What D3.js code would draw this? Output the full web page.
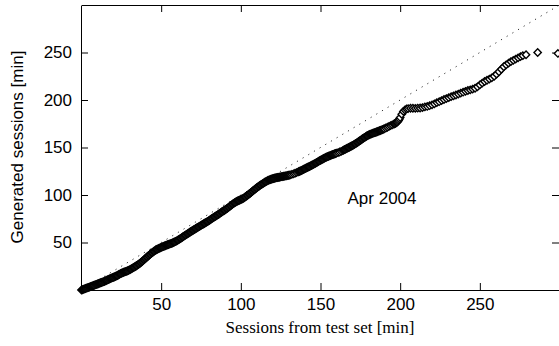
<!DOCTYPE html>
<html>
<head>
<meta charset="utf-8">
<script src="https://cdn.jsdelivr.net/npm/d3@7"></script>
<style>
  html, body { margin: 0; padding: 0; background: #fff; }
  svg { display: block; }
</style>
</head>
<body>
<div id="chart"></div>
<script>
// Quantiles: test set (x) vs generated sessions (y), in minutes
const testSet = [
  0, 0.5, 1, 1.5, 2, 2.5, 3, 3.5, 4, 4.5, 5, 5.5, 6, 6.5, 7, 7.5, 8, 8.5, 9, 9.5,
  10, 10.5, 11, 11.5, 12, 12.5, 13, 13.5, 14, 14.5, 15, 15.5, 16, 16.5, 17, 17.5, 18, 18.5, 19, 19.5,
  20, 20.5, 21, 21.5, 22, 22.5, 23, 23.5, 24, 24.5, 25, 25.5, 26, 26.5, 27, 27.5, 28, 28.5, 29, 29.5,
  30, 30.5, 31, 31.5, 32, 32.5, 33, 33.5, 34, 34.5, 35, 35.5, 36, 36.5, 37, 37.5, 38, 38.5, 39, 39.5,
  40, 40.5, 41, 41.5, 42, 42.5, 43, 43.5, 44, 44.5, 45, 45.5, 46, 46.5, 47, 47.5, 48, 48.5, 49, 49.5,
  50, 50.5, 51, 51.5, 52, 52.5, 53, 53.5, 54, 54.5, 55, 55.5, 56, 56.5, 57, 57.5, 58, 58.5, 59, 59.5,
  60, 60.5, 61, 61.5, 62, 62.5, 63, 63.5, 64, 64.5, 65, 65.5, 66, 66.5, 67, 67.5, 68, 68.5, 69, 69.5,
  70, 70.5, 71, 71.5, 72, 72.5, 73, 73.5, 74, 74.5, 75, 75.5, 76, 76.5, 77, 77.5, 78, 78.5, 79, 79.5,
  80, 80.5, 81, 81.5, 82, 82.5, 83, 83.5, 84, 84.5, 85, 85.5, 86, 86.5, 87, 87.5, 88, 88.5, 89, 89.5,
  90, 90.5, 91, 91.5, 92, 92.5, 93, 93.5, 94, 94.5, 95, 95.5, 96, 96.5, 97, 97.5, 98, 98.5, 99, 99.5,
  100, 100.5, 101, 101.5, 102, 102.5, 103, 103.5, 104, 104.5, 105, 105.5, 106, 106.5, 107, 107.5, 108, 108.5, 109, 109.5,
  110, 110.5, 111, 111.5, 112, 112.5, 113, 113.5, 114, 114.5, 115, 115.5, 116, 116.5, 117, 117.5, 118, 118.5, 119, 119.5,
  120, 120.5, 121, 121.5, 122, 122.5, 123, 123.5, 124, 124.5, 125, 125.5, 126, 126.5, 127, 127.5, 128, 128.5, 129, 129.5,
  130, 130.5, 131, 132, 133, 134, 135, 136, 136.5, 137, 137.5, 138, 138.5, 139, 139.5,
  140, 140.5, 141, 141.5, 142, 142.5, 143, 143.5, 144, 144.5, 145, 145.5, 146, 146.5, 147, 147.5, 148, 148.5, 149, 149.5,
  150, 150.5, 151, 151.5, 152, 152.5, 153, 153.5, 154, 154.5, 155, 155.5, 156, 156.5, 157, 157.5, 158, 158.5, 159, 159.5,
  160, 161, 162, 163, 164, 164.5, 165, 165.5, 166, 166.5, 167, 167.5, 168, 168.5, 169, 169.5,
  170, 170.5, 171, 171.5, 172, 172.5, 173, 173.5, 174, 174.5, 175, 175.5, 176, 176.5, 177, 177.5, 178, 178.5, 179, 179.5,
  180, 180.5, 181, 181.5, 182, 182.5, 183, 183.5, 184, 184.5, 185, 185.5, 186, 186.5, 187, 187.5, 188, 188.5, 189, 189.5,
  190, 191, 192, 193, 194, 195, 196, 196.5, 197, 197.5, 198, 198.5, 199, 199.5,
  200, 201, 202, 203, 204, 205, 206.5, 208, 209.5, 211, 212.5, 214, 215.5, 217, 218.5, 220, 221.5, 223,
  224.5, 226, 227.5, 229, 230.5, 232, 233.5, 235, 236.5, 238, 239.5, 241, 242.5, 244, 245.5, 247, 248.5, 250,
  251.5, 253, 254.5, 256, 257.5, 259, 260.5, 262, 263.5, 265, 266.5, 268, 269.5, 271, 272.5, 274, 275.5, 277,
  279, 286.3, 299
];
const generated = [
  0, 0.3, 0.6, 0.9, 1.2, 1.6, 1.9, 2.2, 2.5, 2.8, 3.1, 3.5, 3.8, 4.1, 4.4, 4.7, 5.0, 5.4, 5.7, 6.0,
  6.3, 6.6, 6.9, 7.3, 7.6, 7.9, 8.2, 8.5, 8.9, 9.2, 9.6, 10.0, 10.4, 10.8, 11.2, 11.6, 12.0, 12.3, 12.7, 13.0,
  13.4, 13.7, 14.1, 14.5, 14.9, 15.3, 15.8, 16.3, 16.8, 17.2, 17.6, 18.0, 18.3, 18.7, 19.0, 19.3, 19.6, 19.9, 20.3, 20.7,
  21.1, 21.5, 22.0, 22.5, 23.0, 23.5, 24.0, 24.5, 25.0, 25.5, 26.1, 26.7, 27.3, 27.9, 28.6, 29.3, 30.0, 30.7, 31.5, 32.2,
  33.0, 33.8, 34.6, 35.3, 36.1, 36.8, 37.5, 38.2, 38.9, 39.5, 40.2, 40.8, 41.4, 41.9, 42.4, 42.9, 43.3, 43.7, 44.1, 44.5,
  44.9, 45.2, 45.6, 45.9, 46.3, 46.6, 47.0, 47.3, 47.6, 47.9, 48.2, 48.5, 48.8, 49.1, 49.5, 49.9, 50.3, 50.7, 51.1, 51.5,
  52.0, 52.5, 53.0, 53.5, 54.1, 54.6, 55.2, 55.8, 56.4, 56.9, 57.5, 58.0, 58.6, 59.1, 59.7, 60.2, 60.8, 61.3, 61.9, 62.4,
  62.9, 63.4, 63.9, 64.5, 65.0, 65.5, 66.0, 66.5, 67.0, 67.5, 68.0, 68.5, 69.0, 69.5, 70.0, 70.5, 71.0, 71.5, 72.0, 72.5,
  73.0, 73.6, 74.2, 74.8, 75.4, 75.9, 76.5, 77.0, 77.6, 78.1, 78.6, 79.1, 79.7, 80.3, 80.9, 81.5, 82.1, 82.6, 83.2, 83.7,
  84.2, 84.8, 85.4, 86.0, 86.7, 87.3, 88.0, 88.6, 89.3, 89.9, 90.6, 91.2, 91.8, 92.3, 92.8, 93.2, 93.7, 94.1, 94.5, 94.9,
  95.2, 95.6, 96.0, 96.5, 97.0, 97.6, 98.2, 98.8, 99.5, 100.1, 100.8, 101.4, 102.1, 102.8, 103.5, 104.2, 104.9, 105.6, 106.3, 106.9,
  107.6, 108.2, 108.9, 109.5, 110.1, 110.6, 111.2, 111.7, 112.3, 112.8, 113.4, 113.9, 114.4, 114.8, 115.3, 115.7, 116.0, 116.3, 116.6, 116.9,
  117.1, 117.4, 117.6, 117.9, 118.1, 118.3, 118.4, 118.6, 118.7, 118.9, 119.1, 119.3, 119.4, 119.6, 119.7, 119.9, 120.1, 120.2, 120.4, 120.6,
  120.8, 121.0, 121.2, 121.7, 122.3, 122.9, 123.6, 124.3, 124.7, 125.0, 125.4, 125.8, 126.2, 126.7, 127.1,
  127.5, 128.0, 128.4, 128.8, 129.2, 129.6, 130.0, 130.4, 130.9, 131.3, 131.8, 132.2, 132.7, 133.1, 133.6, 134.1, 134.6, 135.1, 135.6, 136.1,
  136.6, 137.0, 137.5, 137.9, 138.4, 138.8, 139.3, 139.7, 140.1, 140.4, 140.8, 141.1, 141.5, 141.8, 142.2, 142.5, 142.8, 143.1, 143.4, 143.7,
  144.0, 144.6, 145.3, 146.0, 146.8, 147.2, 147.7, 148.1, 148.6, 149.0, 149.4, 149.8, 150.3, 150.7, 151.2, 151.6,
  152.0, 152.5, 153.0, 153.5, 154.0, 154.6, 155.2, 155.7, 156.3, 156.9, 157.5, 158.1, 158.7, 159.3, 159.9, 160.4, 161.0, 161.5, 162.1, 162.5,
  163.0, 163.4, 163.8, 164.1, 164.4, 164.8, 165.1, 165.4, 165.7, 166.0, 166.3, 166.6, 166.9, 167.2, 167.6, 167.9, 168.2, 168.5, 168.9, 169.3,
  169.7, 170.5, 171.3, 172.2, 173.0, 173.8, 174.6, 175.0, 175.5, 176.0, 176.5, 177.4, 178.5, 180.0,
  181.5, 185, 188, 189.5, 190.5, 191, 191.35, 191.3, 191.25, 191.5, 191.55, 192.0, 192.7, 193.2, 194.0, 194.9, 196.0, 197.2,
  198.2, 199.4, 200.5, 201.5, 202.5, 203.5, 204.4, 205.3, 206.2, 207.3, 208.2, 209.1, 210.0, 210.7, 211.5, 212.4, 213.9, 215.9,
  217.8, 219.5, 220.8, 222.0, 223.3, 225, 227.2, 229.7, 232.4, 235, 237.0, 238.8, 240.4, 241.8, 243.1, 244.4, 245.6, 246.7,
  247.6, 250, 249
];
const xTicks = [50, 100, 150, 200, 250];
const yTicks = [50, 100, 150, 200, 250];
const xLabel = "Sessions from test set [min]";
const yLabel = "Generated sessions [min]";
const note = "Apr 2004";

const width = 559, height = 346;
const plotLeft = 81, plotRight = 559, plotTop = 5, plotBottom = 290;
const sans = "'Liberation Sans', Arial, Helvetica, sans-serif";
const serif = "'Liberation Serif', 'Times New Roman', serif";

const svg = d3.select("#chart").append("svg")
    .attr("width", width)
    .attr("height", height)
    .style("background", "#fff");

const x = d3.scaleLinear().domain([0, 300]).range([plotLeft + 0.5, plotRight + 0.5]);
const y = d3.scaleLinear().domain([0, 300]).range([plotBottom, plotTop]);

const data = testSet.map((v, i) => ({ x: v, y: generated[i] }));

// Axes, ticks pointing into the plot on all four sides
function styleAxis(g) {
    g.selectAll("path, line").attr("stroke", "#000");
    g.selectAll("text")
        .attr("fill", "#000")
        .style("font-family", sans)
        .style("font-size", "17px");
}

svg.append("g")
    .attr("transform", `translate(0,${plotBottom})`)
    .call(d3.axisBottom(x).tickValues(xTicks).tickSizeInner(-7).tickSizeOuter(0).tickPadding(8))
    .call(styleAxis);

svg.append("g")
    .attr("transform", `translate(0,${plotTop})`)
    .call(d3.axisTop(x).tickValues(xTicks).tickSizeInner(-7).tickSizeOuter(0).tickFormat(""))
    .call(styleAxis);

svg.append("g")
    .attr("transform", `translate(${plotLeft},0)`)
    .call(d3.axisLeft(y).tickValues(yTicks).tickSizeInner(-7).tickSizeOuter(0).tickPadding(9))
    .call(styleAxis);

svg.append("g")
    .attr("transform", `translate(${plotRight},0)`)
    .call(d3.axisRight(y).tickValues(yTicks).tickSizeInner(-7).tickSizeOuter(0).tickFormat(""))
    .call(styleAxis);

// y = x reference
svg.append("line")
    .attr("x1", x(0)).attr("y1", y(0))
    .attr("x2", x(300)).attr("y2", y(300))
    .attr("stroke", "#333")
    .attr("stroke-width", 1)
    .attr("stroke-dasharray", "1.2 5.4");

// Diamonds
const diamond = d3.symbol().type(d3.symbolSquare).size(27);
svg.append("g")
    .selectAll("path")
    .data(data)
    .join("path")
    .attr("d", diamond)
    .attr("transform", d => `translate(${x(d.x)},${y(d.y)}) rotate(45)`)
    .attr("fill", "#fff")
    .attr("stroke", "#000")
    .attr("stroke-width", 1.4);

// Labels
svg.append("text")
    .attr("x", 320)
    .attr("y", 333)
    .attr("text-anchor", "middle")
    .style("font-family", serif)
    .style("font-size", "17px")
    .attr("fill", "#000")
    .text(xLabel);

svg.append("text")
    .attr("transform", "translate(23,147) rotate(-90)")
    .attr("text-anchor", "middle")
    .style("font-family", sans)
    .style("font-size", "17px")
    .attr("fill", "#000")
    .text(yLabel);

svg.append("text")
    .attr("x", 382)
    .attr("y", 204)
    .attr("text-anchor", "middle")
    .style("font-family", sans)
    .style("font-size", "17px")
    .attr("fill", "#000")
    .text(note);
</script>
</body>
</html>
